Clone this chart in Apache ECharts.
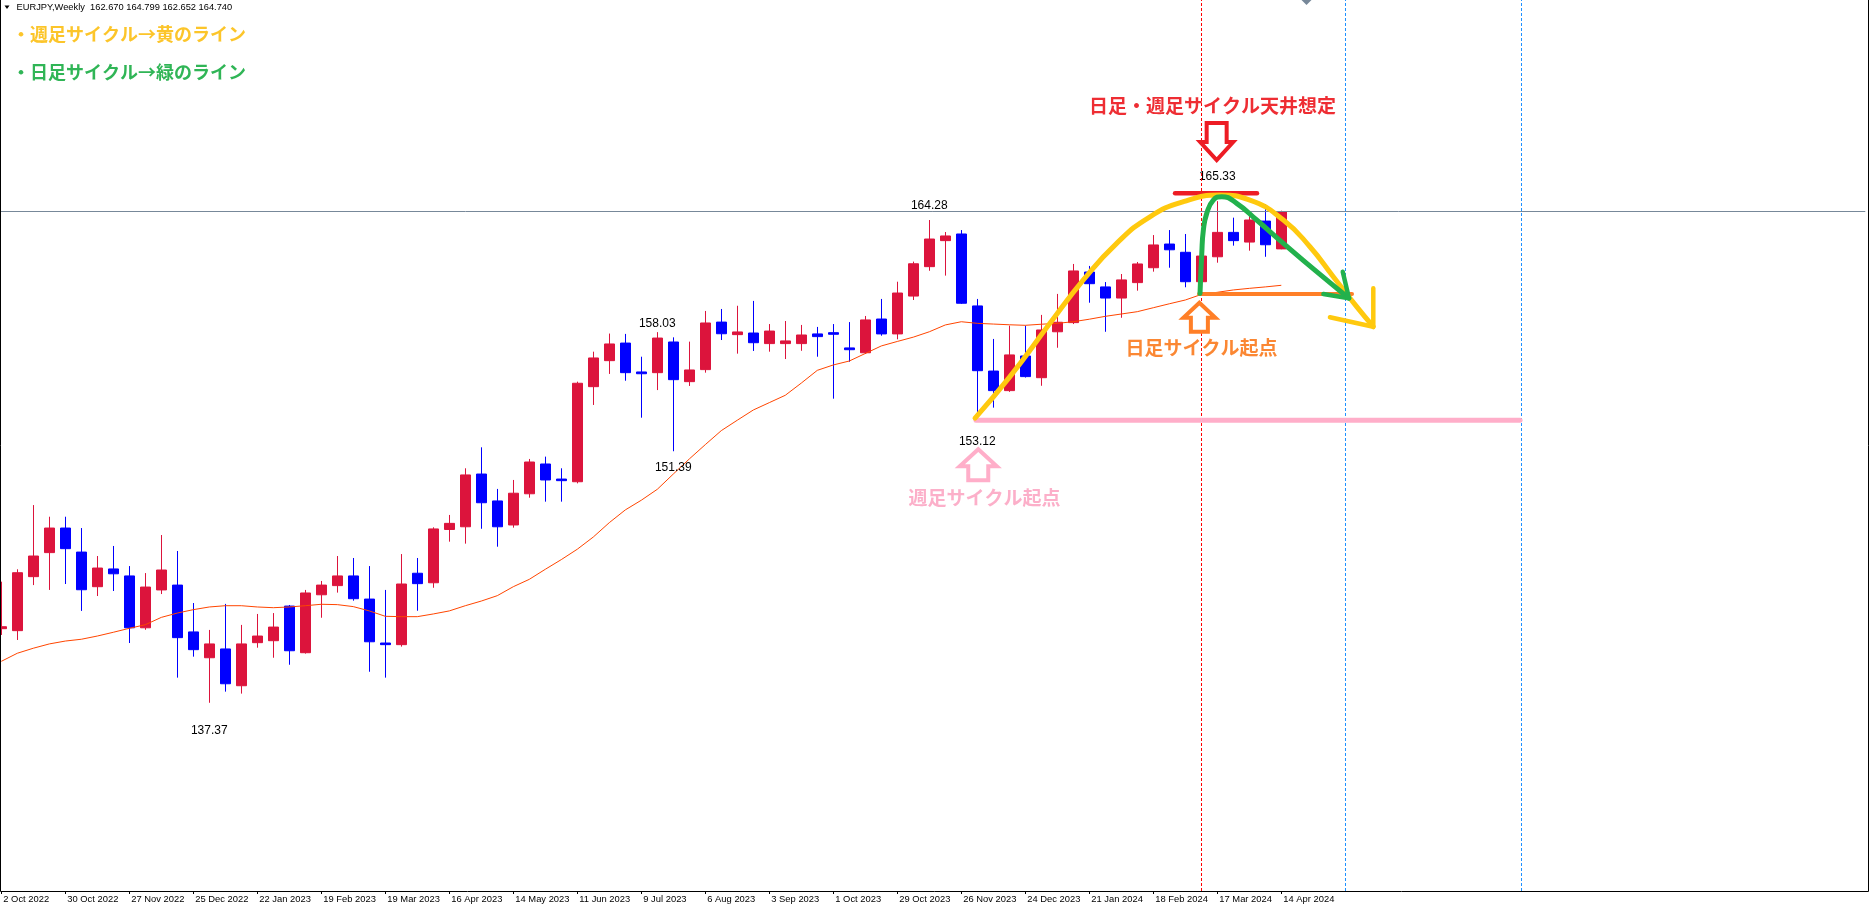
<!DOCTYPE html>
<html>
<head>
<meta charset="utf-8">
<title>EURJPY Weekly</title>
<script src="https://cdn.jsdelivr.net/npm/echarts@6/dist/echarts.min.js"></script>
<style>
  html, body { margin: 0; padding: 0; background: #fff; }
  #chart { width: 1869px; height: 905px; }
</style>
</head>
<body>
<div id="chart"></div>
<script>
// EURJPY weekly candles, 2 Oct 2022 .. 14 Apr 2024
var openVals = [141.50, 141.39, 144.40, 145.74, 147.11, 145.77, 143.84, 144.83, 144.44, 141.55,
  143.66, 143.93, 141.32, 139.88, 140.37, 138.32, 140.72, 140.83, 142.76, 140.16,
  143.39, 143.90, 144.44, 143.15, 140.70, 140.61, 144.59, 144.06, 147.03, 147.18,
  150.12, 148.62, 147.28, 149.02, 150.68, 149.84, 149.69, 154.99, 156.44, 157.42,
  155.81, 155.77, 157.48, 155.27, 155.94, 158.59, 157.89, 157.98, 157.39, 157.39,
  157.39, 157.93, 158.00, 157.15, 156.88, 158.76, 157.93, 160.04, 161.68, 163.13,
  163.50, 159.49, 155.86, 154.77, 156.70, 155.49, 158.05, 158.56, 161.38, 160.55,
  159.93, 160.79, 161.62, 162.94, 162.48, 160.84, 162.23, 163.59, 163.05, 164.22,
  162.670];
var highVals = [144.12, 144.81, 148.39, 147.74, 147.74, 147.11, 145.55, 146.11, 144.99, 144.60,
  146.72, 145.83, 142.93, 141.43, 142.88, 141.71, 142.32, 142.37, 142.82, 143.66,
  144.16, 145.55, 145.44, 144.99, 143.66, 145.66, 145.44, 147.15, 147.84, 150.44,
  151.61, 149.29, 149.79, 150.96, 151.09, 150.44, 155.27, 156.94, 157.95, 157.93,
  156.66, 158.03, 157.74, 157.50, 159.21, 159.32, 159.50, 159.77, 158.48, 158.65,
  158.43, 158.32, 158.48, 158.59, 158.93, 159.88, 160.84, 161.96, 164.28, 163.61,
  163.72, 159.88, 157.65, 158.39, 158.39, 158.99, 160.16, 161.83, 161.72, 160.82,
  161.27, 161.94, 163.44, 163.72, 163.50, 162.60, 165.33, 164.41, 164.65, 165.17,
  164.799];
var lowVals = [141.15, 140.87, 143.93, 143.66, 143.99, 142.49, 143.32, 143.60, 140.70, 141.44,
  143.43, 138.77, 139.94, 137.37, 137.99, 137.88, 140.44, 139.88, 139.49, 140.11,
  142.11, 143.51, 143.06, 139.10, 138.77, 140.50, 142.50, 143.78, 146.35, 146.24,
  147.07, 146.07, 147.13, 148.80, 148.58, 148.58, 149.60, 153.97, 155.70, 155.32,
  153.26, 154.80, 151.39, 155.03, 155.77, 157.59, 156.83, 156.98, 156.94, 156.53,
  156.99, 156.66, 154.32, 156.38, 156.81, 157.83, 157.63, 159.82, 161.45, 161.18,
  159.60, 153.12, 153.82, 154.70, 155.50, 155.04, 157.16, 158.48, 159.67, 158.05,
  158.83, 160.34, 161.40, 161.62, 160.53, 160.70, 161.90, 162.85, 162.57, 162.23,
  162.652];
var closeVals = [141.61, 144.62, 145.55, 147.11, 145.96, 143.67, 144.88, 144.56, 141.55, 143.82,
  144.77, 141.00, 140.33, 140.65, 138.43, 140.65, 141.09, 141.59, 140.27, 143.49,
  143.93, 144.44, 143.17, 140.77, 140.61, 143.99, 144.01, 147.06, 147.37, 150.07,
  148.52, 147.18, 149.05, 150.79, 149.79, 149.75, 155.18, 156.59, 157.37, 155.77,
  155.71, 157.70, 155.38, 155.92, 158.54, 157.94, 158.04, 157.44, 158.09, 157.54,
  157.87, 157.78, 157.91, 157.05, 158.71, 157.93, 160.21, 161.84, 163.22, 163.39,
  159.64, 155.88, 154.77, 156.76, 155.55, 158.15, 158.58, 161.44, 160.73, 159.93,
  160.94, 161.83, 162.89, 162.62, 160.84, 162.27, 163.59, 163.13, 164.28, 162.90,
  164.740];
// moving average drawn on the chart
var maVals = [139.68, 140.13, 140.41, 140.65, 140.81, 140.91, 141.09, 141.30, 141.52, 141.72,
  142.13, 142.37, 142.56, 142.71, 142.78, 142.78, 142.71, 142.67, 142.71, 142.78,
  142.86, 142.84, 142.73, 142.49, 142.19, 142.17, 142.17, 142.32, 142.49, 142.78,
  143.04, 143.34, 143.84, 144.25, 144.81, 145.35, 145.93, 146.61, 147.41, 148.12,
  148.66, 149.27, 150.12, 150.96, 151.76, 152.54, 153.12, 153.69, 154.10, 154.51,
  155.19, 155.90, 156.20, 156.42, 156.84, 157.26, 157.51, 157.75, 158.05, 158.43,
  158.61, 158.52, 158.48, 158.44, 158.41, 158.47, 158.52, 158.61, 158.75, 158.91,
  159.04, 159.17, 159.39, 159.61, 159.82, 160.13, 160.25, 160.38, 160.47, 160.55,
  160.64];
var tickLabels = ['2 Oct 2022', '30 Oct 2022', '27 Nov 2022', '25 Dec 2022', '22 Jan 2023',
  '19 Feb 2023', '19 Mar 2023', '16 Apr 2023', '14 May 2023', '11 Jun 2023', '9 Jul 2023',
  '6 Aug 2023', '3 Sep 2023', '1 Oct 2023', '29 Oct 2023', '26 Nov 2023', '24 Dec 2023',
  '21 Jan 2024', '18 Feb 2024', '17 Mar 2024', '14 Apr 2024'];
var futureWeeks = 36;
var bidPrice = 164.74;
var redVLine = 75;
var blueVLines = [84, 95];

// hand drawn lines, [week index, price]
var weeklyCycle = [[60.86, 153.24], [63.04, 155.55], [65.54, 158.52], [67.63, 160.94], [69.71, 162.98],
  [71.79, 164.46], [73.88, 165.30], [76.17, 165.67], [78.04, 165.39], [80.13, 164.28],
  [81.79, 162.79], [83.25, 161.12], [84.71, 159.45], [85.75, 158.33]];
var weeklyHead = [[85.75, 160.47], [85.75, 158.33], [83.04, 158.86]];
var dailyCycle = [[74.92, 160.19], [75.03, 162.42], [75.13, 163.72], [75.34, 164.65], [75.75, 165.39],
  [76.28, 165.58], [77.21, 165.21], [78.46, 164.28], [80.13, 162.98], [82.21, 161.40], [84.23, 159.92]];
var dailyHead = [[83.84, 161.40], [84.23, 159.92], [82.63, 160.15]];
var topLine = [[73.36, 165.77], [78.48, 165.77]];
var dailyBase = [[74.86, 160.16], [84.42, 160.16]];
var weeklyBase = [[60.92, 153.12], [94.92, 153.12]];

var noteTexts = ['日足・週足サイクル天井想定', '日足サイクル起点', '週足サイクル起点'];
var notePos = [[75.70, 170.65], [75.02, 157.13], [61.45, 148.77]];
var noteColors = ['#ee2d33', '#fb8733', '#fcafc9'];

var arrowPos = [[75.96, 167.62], [74.88, 159.67], [61.06, 151.50]];
var arrowDir = ['down', 'up', 'up'];
var arrowColors = ['#ed1c24', '#ff7f27', '#ffaec9'];
var arrowSize = [
  {headH: 18, headW: 33, shaftW: 20, len: 37},
  {headH: 15, headW: 32, shaftW: 17, len: 29},
  {headH: 17, headW: 37, shaftW: 20, len: 31}
];

var extremeBars = [58, 41, 76, 42, 61, 13];
var extremeSide = ['high', 'high', 'high', 'low', 'low', 'low'];
var extremeShift = [-14, -8, -24, 16, 21, 28];

var weeks = [];
var firstWeek = Date.UTC(2022, 9, 2);
for (var k = 0; k < openVals.length + futureWeeks; k++) {
  weeks.push(new Date(firstWeek + k * 7 * 86400000).toISOString().slice(0, 10));
}

var candles = openVals.map(function (o, i) {
  return [o, closeVals[i], lowVals[i], highVals[i]];
});

var extremeData = extremeBars.map(function (b, j) {
  return [b, extremeSide[j] === 'high' ? highVals[b] : lowVals[b]];
});

var myChart = echarts.init(document.getElementById('chart'));

function drawnLine (data, color, width, smooth, z) {
  return {
    type: 'line',
    xAxisIndex: 1,
    data: data,
    smooth: smooth,
    symbol: 'none',
    silent: true,
    z: z,
    lineStyle: {color: color, width: width, cap: 'round', join: 'round'}
  };
}

myChart.setOption({
  backgroundColor: '#ffffff',
  animation: false,
  grid: {left: -6.7, top: 0, width: 1872, height: 891, outerBoundsMode: 'none'},
  xAxis: [{
    type: 'category',
    data: weeks,
    boundaryGap: true,
    axisLine: {show: false},
    axisTick: {
      show: true,
      alignWithLabel: true,
      length: 3,
      interval: function (index) { return index % 4 === 0 && index / 4 < tickLabels.length; },
      lineStyle: {color: '#000', width: 1}
    },
    axisLabel: {
      interval: 0,
      align: 'left',
      margin: 4,
      padding: [0, 0, 0, 2],
      color: '#000',
      fontSize: 9.4,
      fontFamily: 'Liberation Sans',
      hideOverlap: false,
      formatter: function (value, index) {
        return index % 4 === 0 ? (tickLabels[index / 4] || '') : '';
      }
    },
    splitLine: {show: false}
  }, {
    type: 'value',
    min: -0.5,
    max: 116.5,
    show: false
  }],
  yAxis: {
    type: 'value',
    min: 126.878,
    max: 176.543,
    show: false,
    splitLine: {show: false}
  },
  series: [{
    name: 'EURJPY',
    type: 'candlestick',
    data: candles,
    barWidth: 10,
    z: 2,
    itemStyle: {
      color: '#dc143c',
      color0: '#0000ff',
      borderColor: '#dc143c',
      borderColor0: '#0000ff',
      borderWidth: 1
    },
    markLine: {
      silent: true,
      symbol: ['none', 'none'],
      label: {show: false},
      data: [
        {yAxis: bidPrice, lineStyle: {color: '#778899', width: 1, type: 'solid'}},
        {xAxis: redVLine, lineStyle: {color: '#ff0000', width: 1, type: [3, 2]}}
      ].concat(blueVLines.map(function (v) {
        return {xAxis: v, lineStyle: {color: '#1e90ff', width: 1, type: [3, 2]}};
      }))
    }
  }, {
    name: 'MA',
    type: 'line',
    data: maVals,
    symbol: 'none',
    silent: true,
    z: 3,
    lineStyle: {color: '#ff4500', width: 1}
  },
  drawnLine(weeklyBase, '#ffaec9', 5, false, 5),
  drawnLine(topLine, '#ed1c24', 4.5, false, 5),
  drawnLine(dailyBase, '#ff7f27', 4, false, 5),
  drawnLine(weeklyCycle, '#ffc90e', 5, true, 6),
  drawnLine(weeklyHead, '#ffc90e', 4.5, false, 6),
  drawnLine(dailyCycle, '#22b14c', 5, true, 7),
  drawnLine(dailyHead, '#22b14c', 4.5, false, 7),
  {
    type: 'custom',
    xAxisIndex: 1,
    data: arrowPos,
    silent: true,
    z: 8,
    renderItem: function (params, api) {
      var j = params.dataIndex;
      var tip = api.coord([api.value(0), api.value(1)]);
      var s = arrowSize[j];
      var k = arrowDir[j] === 'down' ? -1 : 1;
      var cx = tip[0], ty = tip[1];
      return {
        type: 'polygon',
        shape: {points: [
          [cx, ty],
          [cx + s.headW / 2, ty + k * s.headH],
          [cx + s.shaftW / 2, ty + k * s.headH],
          [cx + s.shaftW / 2, ty + k * s.len],
          [cx - s.shaftW / 2, ty + k * s.len],
          [cx - s.shaftW / 2, ty + k * s.headH],
          [cx - s.headW / 2, ty + k * s.headH]
        ]},
        style: {fill: '#ffffff', stroke: arrowColors[j], lineWidth: 4, lineJoin: 'miter'}
      };
    }
  }, {
    type: 'custom',
    xAxisIndex: 1,
    data: notePos,
    silent: true,
    z: 8,
    renderItem: function (params, api) {
      var j = params.dataIndex;
      var pt = api.coord([api.value(0), api.value(1)]);
      return {
        type: 'text',
        x: pt[0],
        y: pt[1],
        style: {
          text: noteTexts[j],
          fill: noteColors[j],
          fontSize: 19,
          fontWeight: 'bold',
          fontFamily: '"Noto Sans CJK JP"',
          align: 'center',
          verticalAlign: 'middle'
        }
      };
    }
  }, {
    type: 'custom',
    xAxisIndex: 1,
    data: extremeData,
    silent: true,
    z: 4,
    renderItem: function (params, api) {
      var j = params.dataIndex;
      var pt = api.coord([api.value(0), api.value(1)]);
      return {
        type: 'text',
        x: pt[0],
        y: pt[1] + extremeShift[j],
        style: {
          text: api.value(1).toFixed(2),
          fill: '#000',
          fontSize: 12,
          fontFamily: 'Liberation Sans',
          align: 'center',
          verticalAlign: 'middle'
        }
      };
    }
  }],
  graphic: [{
    type: 'rect',
    z: 100,
    silent: true,
    shape: {x: 0.5, y: -5, width: 1868, height: 896.5},
    style: {fill: null, stroke: '#000', lineWidth: 1}
  }, {
    type: 'polygon',
    z: 100,
    shape: {points: [[4.5, 5.5], [9.5, 5.5], [7, 9]]},
    style: {fill: '#000'}
  }, {
    type: 'text',
    z: 100,
    x: 16.5,
    y: 7.5,
    style: {
      text: 'EURJPY,Weekly  162.670 164.799 162.652 164.740',
      fill: '#000',
      fontSize: 9.3,
      fontFamily: 'Liberation Sans',
      verticalAlign: 'middle'
    }
  }, {
    type: 'polygon',
    z: 100,
    shape: {points: [[1301.5, 0], [1311.5, 0], [1306.5, 5]]},
    style: {fill: '#778899'}
  }, {
    type: 'text',
    z: 100,
    x: 12,
    y: 34,
    style: {
      text: '・週足サイクル→黄のライン',
      fill: '#fcc52a',
      fontSize: 18,
      fontWeight: 'bold',
      fontFamily: '"Noto Sans CJK JP"',
      verticalAlign: 'middle'
    }
  }, {
    type: 'text',
    z: 100,
    x: 12,
    y: 72,
    style: {
      text: '・日足サイクル→緑のライン',
      fill: '#30b556',
      fontSize: 18,
      fontWeight: 'bold',
      fontFamily: '"Noto Sans CJK JP"',
      verticalAlign: 'middle'
    }
  }]
});
</script>
</body>
</html>
